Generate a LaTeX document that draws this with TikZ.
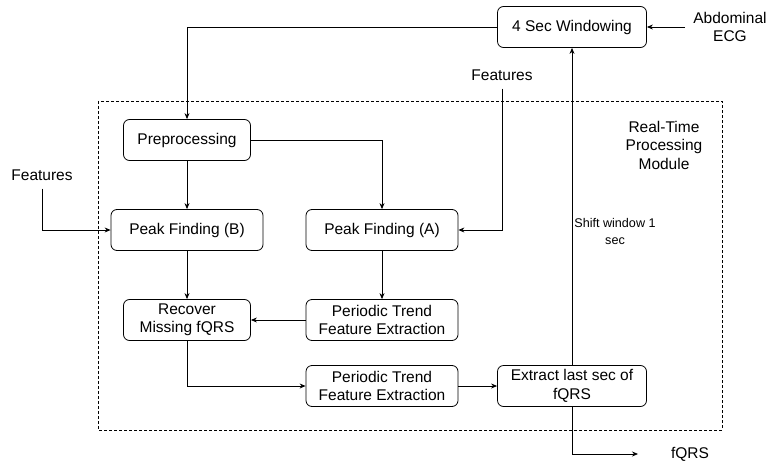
\documentclass[tikz,border=0pt]{standalone}
\usepackage{fontspec}
\setmainfont{Liberation Sans}
\usetikzlibrary{arrows.meta}

\begin{document}
\begin{tikzpicture}[x=1pt,y=-1pt,line width=0.8pt,
		font=\fontsize{15.5}{18.5}\selectfont,
		>={Stealth[length=6pt,width=5pt]},
		box/.style={draw,rounded corners=6pt,align=center,
			inner sep=0pt,minimum height=41pt},
		lbl/.style={align=center,outer sep=5pt}]
		\useasboundingbox (0,0) rectangle (775,468);
		\draw[dash pattern=on 3pt off 2pt] (98,101) rectangle (722,430);
		\node[box,minimum width=149pt] (win) at (572,27) {4 Sec Windowing};
		\node[lbl] (ecg) at (730,27) {Abdominal\\ECG};
		\node[lbl] (featA) at (502,75) {Features};
		\node[lbl] (featB) at (42,175) {Features};
		\node[lbl] (mod) at (664,145) {Real-Time\\Processing\\Module};
		\node[box,minimum width=127pt] (pre) at (187,140) {Preprocessing};
		\node[box,minimum width=152pt] (peakB) at (187,230) {Peak Finding (B)};
		\node[box,minimum width=152pt] (peakA) at (382,230) {Peak Finding (A)};
		\node[box,minimum width=127pt] (rec) at (187,320) {Recover\\Missing fQRS};
		\node[box,minimum width=152pt] (ptA) at (382,320)
		{Periodic Trend\\Feature Extraction};
		\node[box,minimum width=152pt] (ptB) at (382,386)
		{Periodic Trend\\Feature Extraction};
		\node[box,minimum width=149pt] (ext) at (572,386)
		{Extract last sec of\\fQRS};
		\node[lbl,font=\fontsize{12.6}{17}\selectfont] (shift) at (615,231)
		{Shift window 1\\sec};
		\node (out) at (690,454) {fQRS};
		\coordinate (outend) at (638,454);
		% connectors
		\draw[->] (win.west) -| (pre.north);
		\draw[->] (ecg.west) -- (win.east);
		\draw[->] (featA.south) |- (peakA.east);
		\draw[->] (featB.south) |- (peakB.west);
		\draw[->] (pre.east) -| (peakA.north);
		\draw[->] (pre) -- (peakB);
		\draw[->] (peakB) -- (rec);
		\draw[->] (peakA) -- (ptA);
		\draw[->] (ptA) -- (rec);
		\draw[->] (rec.south) |- (ptB.west);
		\draw[->] (ptB) -- (ext);
		\draw[->] (ext.north) -- (win.south);
		\draw[->] (ext.south) |- (outend);
	\end{tikzpicture}
\end{document}
